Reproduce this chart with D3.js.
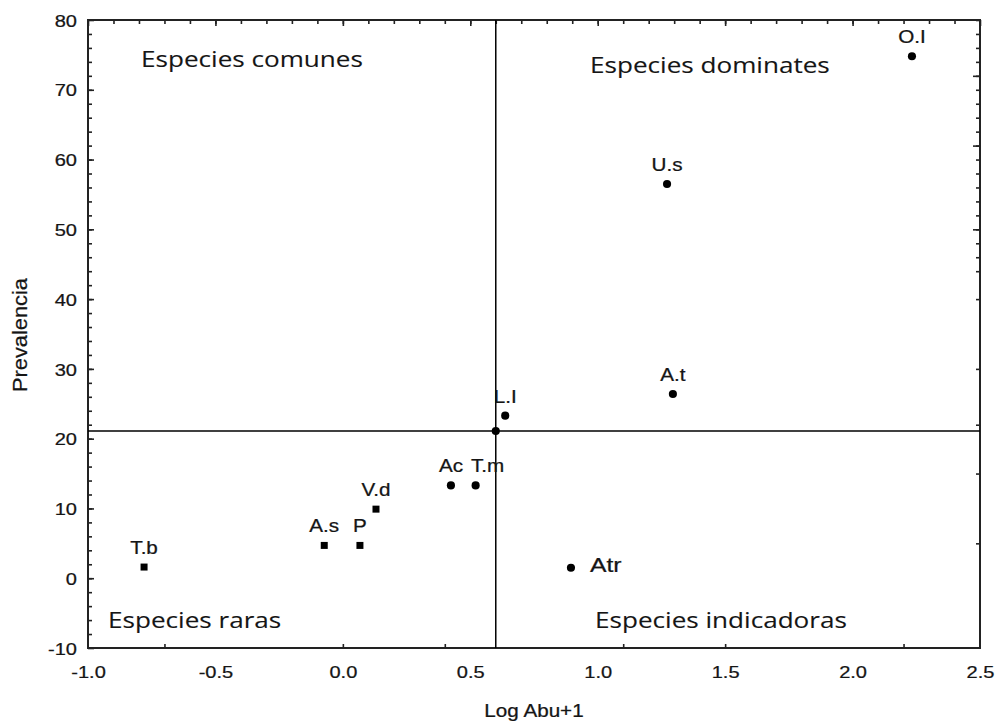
<!DOCTYPE html>
<html>
<head>
<meta charset="utf-8">
<script src="https://cdn.jsdelivr.net/npm/d3@7/dist/d3.min.js"></script>
<style>
	body { margin: 0; background: #fff; }
	text { fill: #151515; stroke: #151515; stroke-width: 0.25px; }
	text.quad { stroke-width: 0.12px; }
</style>
</head>
<body>
<div id="container"></div>
<script>
// species abbreviations (empty = mean point at the crossing of the quadrant lines)
var species    = ["O.I", "U.s", "A.t", "L.I", "", "Ac", "T.m", "V.d", "A.s", "P", "T.b", "Atr"];
var logAbu     = [2.233, 1.272, 1.295, 0.637, 0.600, 0.424, 0.521, 0.130, -0.073, 0.067, -0.780, 0.895];
var prevalence = [74.8, 56.5, 26.4, 23.3, 21.1, 13.3, 13.3, 9.9, 4.7, 4.7, 1.6, 1.5];
var marker     = ["circle", "circle", "circle", "circle", "circle", "circle", "circle",
                  "square", "square", "square", "square", "circle"];

// quadrant split (mean point)
var splitX = 0.600, splitY = 21.1;

var quadrantNames = ["Especies comunes", "Especies dominates", "Especies raras", "Especies indicadoras"];

// tick values
var xTicks = [-1.0, -0.5, 0.0, 0.5, 1.0, 1.5, 2.0, 2.5];
var yTicks = [-10, 0, 10, 20, 30, 40, 50, 60, 70, 80];
var bottomTicks = [-0.7, 0.0, 0.4, 1.1, 1.5, 2.2];
var rightTicks = [80, 78, 76, 74, 72, 70, 68, 66, 64, 62, 60, 58, 56, 54, 52, 50, 48, 46, 44, 40, 30, 22, 15, 5];
var rightLong = [72, 62, 50];

function load() {

	var W = 999, H = 724;
	var left = 88, right = 980, top = 20, bottom = 648;
	var sx = 1.18; // glyphs in the picture are a bit wide

	var svg = d3.select("#container")
		.append("svg")
		.attr("width", W)
		.attr("height", H);

	// scales
	var x = d3.scaleLinear().domain([-1, 2.5]).range([left, right]);
	var y = d3.scaleLinear().domain([-10, 80]).range([bottom, top]);

	var arial = "'Liberation Sans', Arial, sans-serif";

	// plain hyphen for negatives, like the picture
	var fmtX = function(d) { return d3.format(".1f")(d).replace("\u2212", "-"); };
	var fmtY = function(d) { return d3.format("d")(d).replace("\u2212", "-"); };

	// helper for stretched text
	function label(parent, px, py, str, size, anchor, family, scaleX, rot) {
		var g = parent.append("g")
			.attr("transform", "translate(" + px + "," + py + ")" +
				(rot ? " rotate(" + rot + ")" : "") +
				" scale(" + (scaleX || sx) + ",1)");
		return g.append("text")
			.attr("text-anchor", anchor || "middle")
			.style("font-family", family || arial)
			.style("font-size", size + "px")
			.text(str);
	}

	// tick helper (no labels)
	function ticks(axis, vals, size, tx, ty) {
		var g = svg.append("g")
			.attr("transform", "translate(" + tx + "," + ty + ")")
			.call(axis.tickValues(vals).tickSize(size).tickFormat(""));
		g.select(".domain").remove();
		g.selectAll("line").attr("stroke", "#222").attr("stroke-width", 1.6);
	}

	// top axis: every 0.1, longer at 0.5
	var topMinor = d3.range(-9, 25).map(function(d) { return d / 10; });
	ticks(d3.axisBottom(x), topMinor, 4, 0, top);
	ticks(d3.axisBottom(x), xTicks, 6, 0, top);

	// left axis: every 2, longer at 10
	var leftMinor = d3.range(-8, 80, 2);
	ticks(d3.axisRight(y), leftMinor, 4, left, 0);
	ticks(d3.axisRight(y), yTicks, 6, left, 0);

	// bottom and right odd ticks
	ticks(d3.axisTop(x), bottomTicks, 4, 0, bottom);
	ticks(d3.axisLeft(y), rightTicks, 4, right, 0);
	ticks(d3.axisLeft(y), rightLong, 7, right, 0);

	// tick labels
	var yAxis = svg.append("g")
		.attr("transform", "translate(" + left + ",0)")
		.call(d3.axisLeft(y).tickValues(yTicks).tickSize(0).tickPadding(11).tickFormat(fmtY));
	yAxis.select(".domain").remove();
	yAxis.selectAll("text")
		.attr("transform", "scale(" + sx + ",1)")
		.attr("x", -11 / sx)
		.attr("dy", "0.36em")
		.style("font-family", arial)
		.style("font-size", "17px")
		.attr("fill", "#151515");

	var xAxis = svg.append("g")
		.attr("transform", "translate(0," + bottom + ")")
		.call(d3.axisBottom(x).tickValues(xTicks).tickSize(0).tickPadding(18).tickFormat(fmtX));
	xAxis.select(".domain").remove();
	xAxis.selectAll("text")
		.attr("transform", "scale(" + sx + ",1)")
		.style("font-family", arial)
		.style("font-size", "17px")
		.attr("fill", "#151515");

	// frame
	svg.append("rect")
		.attr("x", left).attr("y", top)
		.attr("width", right - left).attr("height", bottom - top)
		.attr("fill", "none")
		.attr("stroke", "#222")
		.attr("stroke-width", 2);

	// quadrant lines
	svg.append("line")
		.attr("x1", x(splitX)).attr("x2", x(splitX))
		.attr("y1", top).attr("y2", bottom)
		.attr("stroke", "#000").attr("stroke-width", 1.5);
	svg.append("line")
		.attr("x1", left).attr("x2", right)
		.attr("y1", y(splitY)).attr("y2", y(splitY))
		.attr("stroke", "#000").attr("stroke-width", 1.5);

	// points
	var data = species.map(function(s, i) {
		return { name: s, x: logAbu[i], y: prevalence[i], type: marker[i] };
	});

	var sym = d3.symbol()
		.type(function(d) { return d.type == "square" ? d3.symbolSquare : d3.symbolCircle; })
		.size(function(d) { return d.type == "square" ? 49 : 52; });

	svg.append("g").selectAll("path")
		.data(data)
		.enter().append("path")
		.attr("transform", function(d) { return "translate(" + x(d.x) + "," + y(d.y) + ")"; })
		.attr("d", sym)
		.attr("fill", "#000");

	// point labels (mostly centred above)
	var shift = { "T.m": [12, -13, "middle", 17.5], "Atr": [19, 4, "start", 21] };
	data.forEach(function(d) {
		if (!d.name) return;
		var s = shift[d.name] || [0, -13, "middle", 17.5];
		label(svg, x(d.x) + s[0], y(d.y) + s[1], d.name, s[3], s[2]);
	});

	// quadrant names
	var qpos = [[141, 67], [590, 73], [108, 628], [595, 628]];
	quadrantNames.forEach(function(q, i) {
		label(svg, qpos[i][0], qpos[i][1], q, 22.5, "start", "'Open Sans', sans-serif", 1.16)
			.attr("class", "quad");
	});

	// axis titles
	label(svg, (left + right) / 2, 717, "Log Abu+1", 17.5, "middle");
	label(svg, 27, (top + bottom) / 2 + 1, "Prevalencia", 20, "middle", arial, 1.09, -90);
}

load();
</script>
</body>
</html>
